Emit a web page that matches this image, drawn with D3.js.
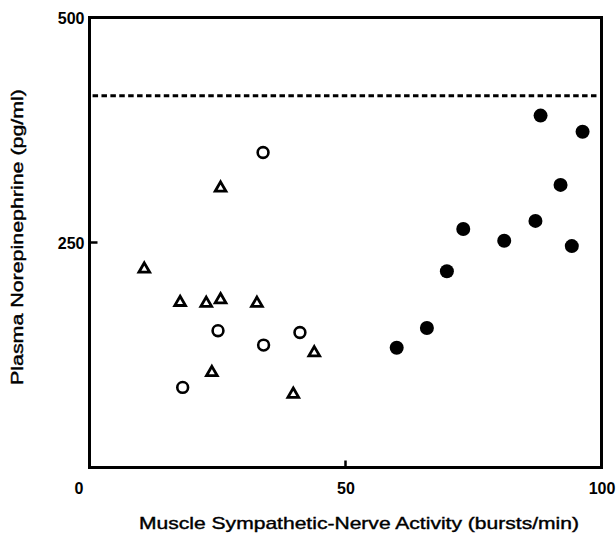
<!DOCTYPE html>
<html>
<head>
<meta charset="utf-8">
<script src="https://cdn.jsdelivr.net/npm/d3@7"></script>
<style>
  body { margin: 0; background: #fff; }
  text { font-family: "Liberation Sans", Arial, sans-serif; fill: #000; }
</style>
</head>
<body>
<script>
// filled circles
const filledX = [60.0, 65.9, 69.8, 73.0, 81.0, 87.1, 88.1, 92.0, 94.2, 96.3];
const filledY = [133, 155, 218, 265, 252, 274, 391, 314, 246, 373];
// open circles
const openX = [33.9, 25.1, 34.0, 41.1, 18.2];
const openY = [350, 152, 136, 150, 89];
// open triangles
const triX = [25.6, 10.7, 17.7, 22.8, 25.6, 32.7, 43.9, 23.9, 39.8];
const triY = [311, 221, 184, 183, 187, 183, 128, 106, 82];
// dotted reference level
const refLevel = 413;
const xTicks = [0, 50, 100];
const yTicks = [250, 500];

const width = 616, height = 544;

var svg = d3.select("body").append("svg")
  .attr("width", width)
  .attr("height", height);

const x = d3.scaleLinear().domain([0, 100]).range([89.5, 601.5]);
const y = d3.scaleLinear().domain([0, 500]).range([467.5, 17.5]);

// frame
svg.append("rect")
  .attr("x", x(0)).attr("y", y(500))
  .attr("width", x(100) - x(0)).attr("height", y(0) - y(500))
  .attr("fill", "none").attr("stroke", "#000").attr("stroke-width", 3);

// bottom axis: only the tick at 50 shows inside the frame
const xAxis = svg.append("g")
  .attr("transform", `translate(0,${y(0)})`)
  .call(d3.axisBottom(x).tickValues(xTicks).tickSize(0).tickPadding(15));
xAxis.select(".domain").remove();
xAxis.selectAll("text")
  .attr("font-size", 16).attr("font-weight", "bold")
  .attr("dx", d => d == 0 ? -11 : 0)
  .style("font-family", "'Liberation Sans', Arial, sans-serif");
svg.append("g").selectAll("line")
  .data(xTicks.filter(d => d > 0 && d < 100))
  .join("line")
    .attr("x1", d => x(d)).attr("x2", d => x(d))
    .attr("y1", y(0)).attr("y2", y(0) - 7)
    .attr("stroke", "#000").attr("stroke-width", 2.5);

// left axis
const yAxis = svg.append("g")
  .attr("transform", `translate(${x(0)},0)`)
  .call(d3.axisLeft(y).tickValues(yTicks).tickSize(0).tickPadding(5));
yAxis.select(".domain").remove();
yAxis.selectAll("text")
  .attr("font-size", 16).attr("font-weight", "bold")
  .attr("dy", "0.4em")
  .style("font-family", "'Liberation Sans', Arial, sans-serif");
svg.append("g").selectAll("line")
  .data(yTicks.filter(d => d < 500))
  .join("line")
    .attr("x1", x(0)).attr("x2", x(0) + 8)
    .attr("y1", d => y(d)).attr("y2", d => y(d))
    .attr("stroke", "#000").attr("stroke-width", 2.5);

// dotted line
svg.append("line")
  .attr("x1", x(0.6)).attr("x2", x(99.4))
  .attr("y1", y(refLevel)).attr("y2", y(refLevel))
  .attr("stroke", "#000").attr("stroke-width", 3)
  .attr("stroke-dasharray", "5.5,3.4");

// markers
const filled = filledX.map((d, i) => [d, filledY[i]]);
const open = openX.map((d, i) => [d, openY[i]]);
const tri = triX.map((d, i) => [d, triY[i]]);

svg.append("g").selectAll("circle")
  .data(filled)
  .join("circle")
    .attr("cx", d => x(d[0])).attr("cy", d => y(d[1]))
    .attr("r", 7).attr("fill", "#000");

svg.append("g").selectAll("circle")
  .data(open)
  .join("circle")
    .attr("cx", d => x(d[0])).attr("cy", d => y(d[1]))
    .attr("r", 5.4).attr("fill", "none")
    .attr("stroke", "#000").attr("stroke-width", 2.6);

const triangle = d3.symbol().type(d3.symbolTriangle).size(50);
svg.append("g").selectAll("path")
  .data(tri)
  .join("path")
    .attr("transform", d => `translate(${x(d[0])},${y(d[1]) + 0.5})`)
    .attr("d", triangle)
    .attr("fill", "none").attr("stroke", "#000")
    .attr("stroke-width", 2.8).attr("stroke-linejoin", "miter");

// axis titles
svg.append("text")
  .attr("x", 359).attr("y", 529)
  .attr("text-anchor", "middle")
  .attr("font-size", 17)
  .attr("stroke", "#000").attr("stroke-width", 0.4)
  .attr("textLength", 440).attr("lengthAdjust", "spacingAndGlyphs")
  .text("Muscle Sympathetic-Nerve Activity (bursts/min)");

svg.append("text")
  .attr("transform", "translate(23,237) rotate(-90)")
  .attr("text-anchor", "middle")
  .attr("font-size", 16)
  .attr("stroke", "#000").attr("stroke-width", 0.4)
  .attr("textLength", 296).attr("lengthAdjust", "spacingAndGlyphs")
  .text("Plasma Norepinephrine (pg/ml)");
</script>
</body>
</html>
